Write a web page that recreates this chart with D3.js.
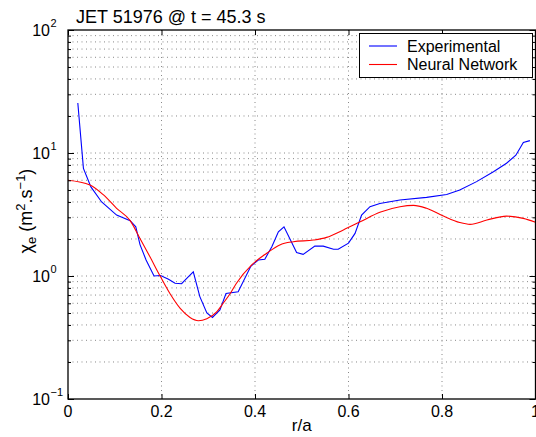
<!DOCTYPE html>
<html><head><meta charset="utf-8">
<script src="https://cdn.jsdelivr.net/npm/d3@7"></script>
<style>body{margin:0;background:#fff}svg{display:block}text{font-family:"Liberation Sans",Arial,sans-serif;fill:#000}</style>
</head><body><svg id="c" width="536" height="437"></svg>
<script>
const titleText = "JET 51976 @ t = 45.3 s";
const seriesNames = ["Experimental", "Neural Network"];
const xTicks = [0, 0.2, 0.4, 0.6, 0.8, 1];
const xTickLabels = ["0", "0.2", "0.4", "0.6", "0.8", "1"];
const yTickExps = [-1, 0, 1, 2];

const expR = [0.021,0.033,0.049,0.072,0.104,0.133,0.145,0.154,0.167,0.184,0.198,0.215,0.229,0.243,0.254,0.268,0.282,0.297,0.309,0.325,0.338,0.364,0.391,0.407,0.421,0.436,0.450,0.462,0.489,0.503,0.528,0.546,0.568,0.578,0.600,0.614,0.628,0.646,0.667,0.710,0.767,0.810,0.838,0.874,0.910,0.938,0.958,0.974,0.988];
const expV = [25.5,7.5,5.3,4.0,3.13,2.82,2.51,1.8,1.35,1.0,1.01,0.94,0.873,0.865,0.957,1.08,0.68,0.50,0.46,0.53,0.72,0.745,1.2,1.35,1.37,1.73,2.29,2.51,1.55,1.5,1.75,1.75,1.65,1.65,1.85,2.22,3.13,3.66,3.89,4.15,4.36,4.6,5.0,5.85,7.05,8.25,9.6,12.2,12.6];

const nnR = [0,0.047,0.076,0.104,0.133,0.154,0.175,0.197,0.218,0.240,0.261,0.279,0.297,0.318,0.332,0.347,0.360,0.393,0.425,0.453,0.482,0.525,0.553,0.589,0.625,0.667,0.710,0.739,0.767,0.803,0.838,0.860,0.896,0.938,0.974,1.0];
const nnV = [6.0,5.5,4.56,3.55,2.82,2.02,1.44,1.0,0.72,0.545,0.46,0.433,0.45,0.51,0.60,0.72,0.87,1.23,1.53,1.79,1.90,1.96,2.06,2.37,2.76,3.3,3.66,3.75,3.55,3.07,2.72,2.63,2.85,3.07,2.94,2.73];

const L = 68, R = 535.5, T = 30, B = 399;
const svg = d3.select("#c");
const x = d3.scaleLinear().domain([0, 1]).range([L, R]);
const y = d3.scaleLog().domain([0.1, 100]).range([B, T]);

// grid
const minor = [];
for (let e = -1; e < 2; e++) for (let m = 2; m <= 9; m++) minor.push(m * Math.pow(10, e));
const hGrid = minor.concat([1, 10]);
const g = svg.append("g");
g.selectAll("line.h").data(hGrid).join("line")
  .attr("x1", L).attr("x2", R).attr("y1", d => y(d)).attr("y2", d => y(d))
  .attr("stroke", "#888").attr("stroke-width", 1).attr("stroke-dasharray", "1,3.5");
g.selectAll("line.v").data(xTicks.slice(1, -1)).join("line")
  .attr("y1", T).attr("y2", B).attr("x1", d => x(d)).attr("x2", d => x(d))
  .attr("stroke", "#888").attr("stroke-width", 1).attr("stroke-dasharray", "1,3.5");

// lines
const line = d3.line().x(d => x(d[0])).y(d => y(d[1]));
svg.append("path").datum(expR.map((r, i) => [r, expV[i]]))
  .attr("d", line).attr("fill", "none").attr("stroke", "#0000ff").attr("stroke-width", 1.1);
svg.append("path").datum(nnR.map((r, i) => [r, nnV[i]]))
  .attr("d", line.curve(d3.curveMonotoneX)).attr("fill", "none").attr("stroke", "#ff0000").attr("stroke-width", 1.1);

// axes (ticks inward)
const axB = d3.axisBottom(x).tickValues(xTicks).tickSize(-5).tickFormat(() => "");
const axT = d3.axisTop(x).tickValues(xTicks).tickSize(-5).tickFormat(() => "");
const axLmaj = d3.axisLeft(y).tickValues(yTickExps.map(e => Math.pow(10, e))).tickSize(-6).tickFormat(() => "");
const axLmin = d3.axisLeft(y).tickValues(minor).tickSize(-3).tickFormat(() => "");
const axRmaj = d3.axisRight(y).tickValues(yTickExps.map(e => Math.pow(10, e))).tickSize(-6).tickFormat(() => "");
const axRmin = d3.axisRight(y).tickValues(minor).tickSize(-3).tickFormat(() => "");
function styleAx(sel) { sel.select(".domain").remove(); sel.selectAll("line").attr("stroke", "#000"); }
svg.append("g").attr("transform", `translate(0,${B})`).call(axB).call(styleAx);
svg.append("g").attr("transform", `translate(0,${T})`).call(axT).call(styleAx);
svg.append("g").attr("transform", `translate(${L},0)`).call(axLmaj).call(styleAx);
svg.append("g").attr("transform", `translate(${L},0)`).call(axLmin).call(styleAx);
svg.append("g").attr("transform", `translate(${R},0)`).call(axRmaj).call(styleAx);
svg.append("g").attr("transform", `translate(${R},0)`).call(axRmin).call(styleAx);
svg.append("rect").attr("x", L).attr("y", T).attr("width", R - L).attr("height", B - T)
  .attr("fill", "none").attr("stroke", "#000").attr("stroke-width", 1.3);

// tick labels
svg.selectAll("text.xt").data(xTicks).join("text")
  .attr("x", d => x(d)).attr("y", 417).attr("text-anchor", "middle")
  .attr("font-size", 16).text((d, i) => xTickLabels[i]);
const yl = svg.selectAll("g.yt").data(yTickExps).join("g")
  .attr("transform", d => `translate(0,${y(Math.pow(10, d))})`);
yl.append("text").attr("x", 50).attr("y", 6).attr("text-anchor", "end").attr("font-size", 16).text("10");
yl.append("text").attr("x", 50.5).attr("y", -3).attr("font-size", 11).text(d => d < 0 ? "\u2212" + (-d) : d);

// title & labels
svg.append("text").attr("x", 76).attr("y", 23).attr("font-size", 18).text(titleText);
svg.append("text").attr("x", x(0.5)).attr("y", 431).attr("text-anchor", "middle").attr("font-size", 17).text("r/a");
const ylab = svg.append("text").attr("transform", "translate(32,211) rotate(-90)")
  .attr("text-anchor", "middle").attr("font-size", 18);
ylab.append("tspan").text("\u03C7");
ylab.append("tspan").attr("font-size", 13).attr("dy", 4).text("e");
ylab.append("tspan").attr("dy", -4).text(" (m");
ylab.append("tspan").attr("font-size", 13).attr("dy", -7).text("2");
ylab.append("tspan").attr("dy", 7).text(".s");
ylab.append("tspan").attr("font-size", 13).attr("dy", -7).text("\u22121");
ylab.append("tspan").attr("dy", 7).text(")");

// legend
const lg = svg.append("g");
lg.append("rect").attr("x", 359.5).attr("y", 33.5).attr("width", 173).attr("height", 44)
  .attr("fill", "#fff").attr("stroke", "#000").attr("stroke-width", 1);
const colors = ["#0000ff", "#ff0000"];
const ly = [46, 64.5];
seriesNames.forEach((n, i) => {
  lg.append("line").attr("x1", 369).attr("x2", 397).attr("y1", ly[i]).attr("y2", ly[i])
    .attr("stroke", colors[i]).attr("stroke-width", 1.1);
  lg.append("text").attr("x", 407).attr("y", ly[i] + 5.7).attr("font-size", 16).text(n);
});
</script></body></html>
